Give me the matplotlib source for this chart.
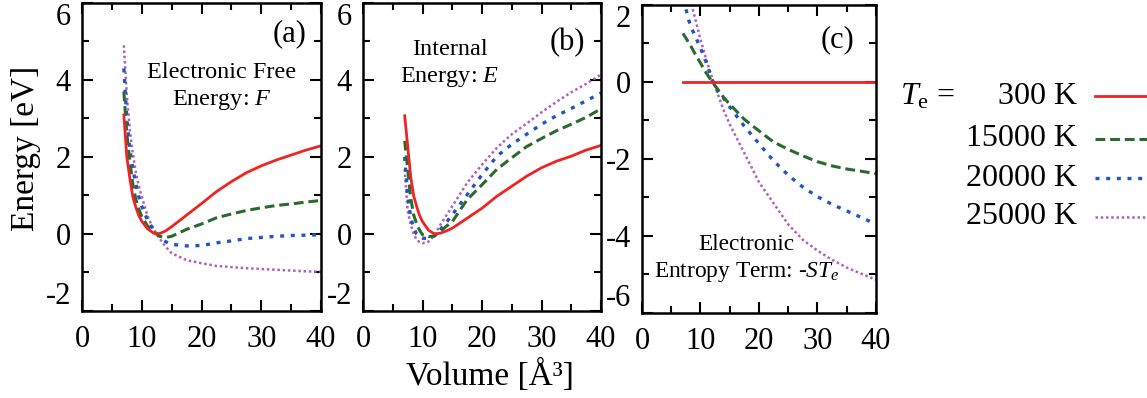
import matplotlib
matplotlib.use("Agg")
import matplotlib.pyplot as plt
from matplotlib.lines import Line2D

plt.rcParams['font.family'] = ['Liberation Serif', 'DejaVu Serif']
plt.rcParams['mathtext.fontset'] = 'custom'
plt.rcParams['mathtext.rm'] = 'Liberation Serif'
plt.rcParams['mathtext.it'] = 'Liberation Serif:italic'
plt.rcParams['axes.unicode_minus'] = False

# volume grid [A^3]
volume = [7, 7.5, 8, 8.5, 9, 9.5, 10, 11, 12, 13, 14, 15, 17.5, 20, 22.5, 25,
          27.5, 30, 32.5, 35, 37.5, 40]
temps = ['300 K', '15000 K', '20000 K', '25000 K']

# (a) electronic free energy F [eV]
F_300 = [3.09, 2.0, 1.45, 0.97, 0.7, 0.48, 0.33, 0.13, 0.02, 0.01, 0.08, 0.19,
         0.49, 0.79, 1.1, 1.36, 1.59, 1.77, 1.92, 2.05, 2.18, 2.29]
F_15000 = [3.7, 2.6, 1.9, 1.3, 0.9, 0.65, 0.45, 0.2, 0.05, -0.06, -0.09, -0.06,
           0.12, 0.26, 0.42, 0.52, 0.61, 0.68, 0.74, 0.78, 0.83, 0.87]
F_20000 = [4.3, 3.0, 2.2, 1.7, 1.3, 0.97, 0.72, 0.35, 0.1, -0.08, -0.2, -0.27,
           -0.31, -0.3, -0.23, -0.18, -0.12, -0.09, -0.06, -0.04, -0.03, -0.02]
F_25000 = [4.9, 3.6, 2.7, 2.1, 1.6, 1.25, 0.97, 0.45, 0.12, -0.12, -0.33, -0.5,
           -0.68, -0.76, -0.83, -0.86, -0.89, -0.91, -0.93, -0.95, -0.97, -0.98]

# (b) internal energy E [eV]
E_300 = [3.07, 2.3, 1.5, 1.0, 0.72, 0.48, 0.32, 0.1, 0.0, 0.02, 0.08, 0.15,
         0.41, 0.67, 0.98, 1.24, 1.5, 1.72, 1.89, 2.02, 2.18, 2.3]
E_15000 = [2.42, 1.7, 0.95, 0.5, 0.27, 0.1, -0.02, -0.07, -0.05, 0.07, 0.2, 0.32,
           0.89, 1.28, 1.68, 1.98, 2.27, 2.48, 2.68, 2.85, 3.03, 3.25]
E_20000 = [2.0, 1.0, 0.45, 0.15, 0.0, -0.07, -0.11, -0.12, -0.05, 0.12, 0.3, 0.5,
           1.02, 1.54, 2.02, 2.33, 2.59, 2.85, 3.07, 3.26, 3.46, 3.66]
E_25000 = [1.68, 0.6, 0.25, 0.0, -0.15, -0.21, -0.24, -0.2, -0.03, 0.24, 0.48, 0.72,
           1.33, 1.8, 2.24, 2.59, 2.87, 3.16, 3.43, 3.68, 3.9, 4.14]

# (c) electronic entropy term -S*Te [eV]
S_300 = [0.0] * 22
S_15000 = [1.26, 1.14, 1.02, 0.89, 0.75, 0.62, 0.49, 0.23, 0.0, -0.2, -0.41, -0.58,
           -0.97, -1.27, -1.56, -1.75, -1.92, -2.07, -2.18, -2.26, -2.32, -2.38]
S_20000 = [2.2, 1.9, 1.6, 1.39, 1.22, 1.05, 0.88, 0.5, 0.05, -0.25, -0.43, -0.65,
           -1.15, -1.6, -2.05, -2.42, -2.73, -2.98, -3.18, -3.35, -3.52, -3.69]
S_25000 = [3.3, 2.8, 2.35, 2.0, 1.7, 1.4, 1.1, 0.58, 0.1, -0.33, -0.75, -1.1,
           -1.85, -2.6, -3.15, -3.7, -4.1, -4.38, -4.62, -4.82, -4.98, -5.14]

colors = ['#ee2424', '#2a6a2e', '#2255c0', '#b060c0']
lws = [2.0, 2.2, 2.4, 1.8]
dash = [None, (3.2, 1.6), (1.2, 2.0), (1.0, 1.1)]


def style_line(line, i):
    line.set_color(colors[i])
    line.set_linewidth(lws[i])
    if dash[i] is not None:
        line.set_dashes(dash[i])


def style_ax(ax, ylo, yhi):
    ax.set_xlim(0, 40)
    ax.set_ylim(ylo, yhi)
    ax.set_xticks([0, 10, 20, 30, 40])
    ax.set_xticks([5, 15, 25, 35], minor=True)
    ax.set_yticks(range(ylo, yhi + 1, 2))
    ax.set_yticks(range(ylo + 1, yhi, 2), minor=True)
    ax.tick_params(which='both', direction='in', top=True, right=True,
                   width=1.5, labelsize=22)
    ax.tick_params(which='major', length=8)
    ax.tick_params(which='minor', length=5)
    ax.tick_params(axis='x', pad=10)
    ax.tick_params(axis='y', pad=8)
    for s in ax.spines.values():
        s.set_linewidth(1.8)
    # end labels pulled inside like the original
    yt = ax.yaxis.get_major_ticks()
    yt[0].label1.set_verticalalignment('bottom')
    yt[-1].label1.set_verticalalignment('top')


fig = plt.figure(figsize=(11.47, 3.98), dpi=100)
ax_a = fig.add_axes([0.0715, 0.2186, 0.2084, 0.774])
ax_b = fig.add_axes([0.3165, 0.2186, 0.2075, 0.774])
ax_c = fig.add_axes([0.5597, 0.2136, 0.204, 0.774])

for ax, series in [(ax_a, [F_300, F_15000, F_20000, F_25000]),
                   (ax_b, [E_300, E_15000, E_20000, E_25000]),
                   (ax_c, [S_300, S_15000, S_20000, S_25000])]:
    for i in [3, 2, 1, 0]:
        line, = ax.plot(volume, series[i])
        style_line(line, i)

style_ax(ax_a, -2, 6)
style_ax(ax_b, -2, 6)
style_ax(ax_c, -6, 2)

fig.text(26 / 1147, 1 - 148 / 398, 'Energy [eV]', fontsize=24, rotation=90,
         ha='center', va='center')
fig.text(490 / 1147, 1 - 375 / 398, 'Volume [Å³]', fontsize=24,
         ha='center', va='center')

ax_a.text(34.8, 5.2, '(a)', fontsize=22, ha='center', va='center')
ax_a.text(23.4, 3.82, 'Electronic Free\nEnergy: $F$', fontsize=17.5,
          ha='center', va='center', multialignment='center', linespacing=1.3)
ax_b.text(34.3, 4.98, '(b)', fontsize=22, ha='center', va='center')
ax_b.text(14.6, 4.42, 'Internal\nEnergy: $E$', fontsize=17.5,
          ha='center', va='center', multialignment='center', linespacing=1.3)
ax_c.text(33.4, 1.09, '(c)', fontsize=22, ha='center', va='center')
ax_c.text(17.9, -4.6, 'Electronic\nEntropy Term: -$ST_e$', fontsize=16.8,
          ha='center', va='center', multialignment='center', linespacing=1.3)

# legend drawn by hand to the right
fig.text(900 / 1147, 1 - 97 / 398, r'$T_{\rm e}$ =', fontsize=23,
         ha='left', va='center')
rows_y = [96, 139, 178, 217]
for i, lab in enumerate(temps):
    y = 1 - rows_y[i] / 398
    fig.text(1077 / 1147, y, lab, fontsize=23, ha='right', va='center')
    ln = Line2D([1095 / 1147, 1.0], [y, y], transform=fig.transFigure)
    style_line(ln, i)
    fig.add_artist(ln)

fig.savefig('out.png', dpi=100)
